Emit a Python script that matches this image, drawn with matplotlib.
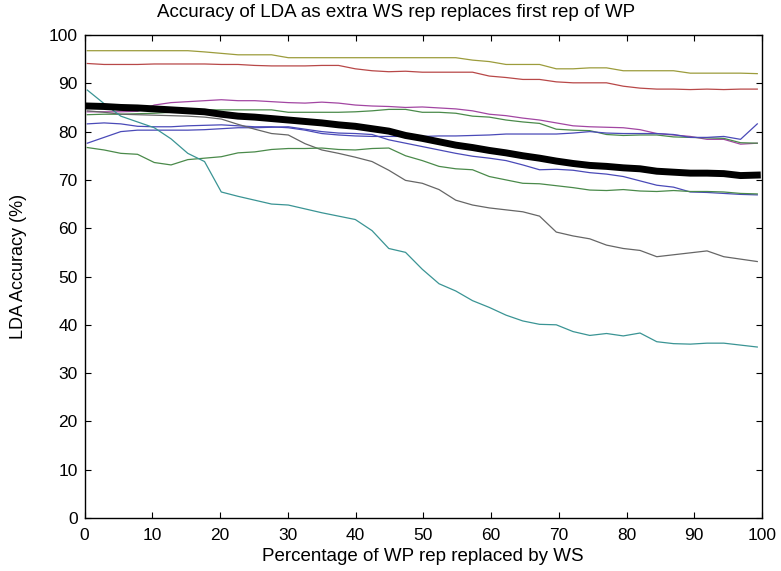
import numpy as np
import matplotlib
matplotlib.use("Agg")
import matplotlib.pyplot as plt

plt.rcParams['font.family'] = ['Liberation Sans', 'DejaVu Sans']

# x positions (percentage of WP rep replaced), sampled every 2.5 %
x_pct = np.linspace(0.4, 99.3, 41)

olive = [96.75, 96.75, 96.75, 96.75, 96.75, 96.75, 96.75, 96.5, 96.2, 95.9,
         95.9, 95.9, 95.3, 95.3, 95.3, 95.3, 95.3, 95.3, 95.3, 95.3,
         95.3, 95.3, 95.3, 94.8, 94.5, 93.9, 93.9, 93.9, 93.0, 93.0,
         93.2, 93.2, 92.6, 92.6, 92.6, 92.6, 92.1, 92.1, 92.1, 92.1, 92.0]
red = [94.1, 93.9, 93.9, 93.9, 94.0, 94.0, 94.0, 94.0, 93.9, 93.9,
       93.7, 93.6, 93.6, 93.6, 93.7, 93.7, 93.0, 92.6, 92.4, 92.5,
       92.3, 92.3, 92.3, 92.3, 91.5, 91.2, 90.8, 90.8, 90.3, 90.1,
       90.1, 90.1, 89.4, 89.0, 88.8, 88.8, 88.7, 88.8, 88.7, 88.8, 88.8]
purple = [84.1, 84.1, 84.1, 84.2, 85.5, 86.0, 86.2, 86.4, 86.6, 86.4,
          86.4, 86.2, 86.0, 85.9, 86.1, 85.9, 85.5, 85.3, 85.2, 85.0,
          85.1, 84.9, 84.7, 84.3, 83.6, 83.3, 82.8, 82.4, 81.8, 81.2,
          81.0, 80.9, 80.8, 80.4, 79.6, 79.3, 79.0, 78.4, 78.4, 77.4, 77.6]
green_hi = [83.5, 83.6, 83.6, 83.7, 83.8, 84.0, 84.3, 84.5, 84.5, 84.5,
            84.5, 84.5, 84.0, 84.0, 84.0, 84.0, 84.1, 84.3, 84.6, 84.6,
            84.0, 84.0, 83.8, 83.2, 83.0, 82.4, 82.0, 81.7, 80.5, 80.3,
            80.2, 79.4, 79.2, 79.3, 79.3, 78.9, 78.8, 78.7, 78.6, 77.7, 77.6]
blue_a = [81.6, 81.8, 81.6, 81.1, 81.0, 81.0, 81.2, 81.3, 81.4, 81.2,
          81.0, 81.0, 80.8, 80.3, 79.6, 79.3, 79.1, 79.0, 79.0, 79.0,
          79.0, 79.1, 79.1, 79.2, 79.3, 79.5, 79.5, 79.5, 79.5, 79.7,
          80.0, 79.7, 79.6, 79.6, 79.6, 79.4, 78.8, 78.8, 79.0, 78.4, 81.6]
blue_b = [77.6, 78.8, 80.0, 80.3, 80.3, 80.3, 80.3, 80.4, 80.6, 80.8,
          80.8, 80.9, 81.0, 80.5, 80.0, 79.7, 79.6, 79.4, 78.3, 77.6,
          76.9, 76.2, 75.5, 74.9, 74.5, 74.0, 73.1, 72.1, 72.2, 72.0,
          71.5, 71.2, 70.7, 69.8, 68.9, 68.5, 67.5, 67.4, 67.2, 67.0, 66.9]
gray = [84.3, 84.0, 83.6, 83.5, 83.4, 83.3, 83.2, 83.0, 82.6, 81.5,
        80.5, 79.6, 79.3, 77.5, 76.2, 75.5, 74.7, 73.8, 72.0, 69.9,
        69.3, 68.0, 65.8, 64.8, 64.2, 63.8, 63.4, 62.5, 59.2, 58.4,
        57.8, 56.5, 55.8, 55.4, 54.1, 54.5, 54.9, 55.3, 54.1, 53.6, 53.1]
green_lo = [76.7, 76.2, 75.5, 75.3, 73.6, 73.1, 74.2, 74.5, 74.8, 75.6,
            75.8, 76.3, 76.5, 76.5, 76.6, 76.3, 76.2, 76.5, 76.6, 75.0,
            74.0, 72.8, 72.3, 72.1, 70.7, 70.0, 69.3, 69.2, 68.8, 68.4,
            67.9, 67.8, 68.0, 67.7, 67.6, 67.8, 67.6, 67.6, 67.5, 67.2, 67.1]
teal = [88.6, 85.8, 83.2, 82.0, 80.8, 78.5, 75.5, 73.8, 67.5, 66.6,
        65.8, 65.0, 64.8, 64.0, 63.2, 62.5, 61.8, 59.5, 55.8, 55.0,
        51.5, 48.5, 47.0, 45.0, 43.6, 42.0, 40.8, 40.1, 40.0, 38.6,
        37.8, 38.2, 37.7, 38.3, 36.5, 36.1, 36.0, 36.2, 36.2, 35.8, 35.4]
mean_acc = [85.3, 85.2, 85.0, 84.9, 84.7, 84.5, 84.3, 84.1, 83.6, 83.2,
            83.0, 82.7, 82.4, 82.1, 81.8, 81.4, 81.1, 80.6, 80.1, 79.2,
            78.6, 77.9, 77.2, 76.7, 76.1, 75.6, 75.0, 74.5, 73.9, 73.4,
            73.0, 72.8, 72.5, 72.3, 71.8, 71.6, 71.4, 71.4, 71.3, 70.9, 71.0]

subjects = [olive, red, purple, green_hi, blue_a, blue_b, gray, green_lo, teal]
farger = ['#9c9c3c', '#b84848', '#a246a2', '#4a8a4a', '#4a4ab8',
          '#4a4ab8', '#666666', '#4a8a4a', '#3a9494']

fig = plt.figure(figsize=(7.81, 5.71), dpi=100)
ax = fig.add_axes([0.1083, 0.0928, 0.8674, 0.8459])

for y, c in zip(subjects, farger):
    ax.plot(x_pct, y, color=c, linewidth=0.9)
ax.plot(x_pct, mean_acc, color='black', linewidth=5, zorder=5)

ax.set_xlim(0, 100)
ax.set_ylim(0, 100)
ax.set_xticks(range(0, 101, 10))
ax.set_yticks(range(0, 101, 10))
ax.tick_params(direction='in', top=True, right=True, length=4,
               labelsize=12.5, width=0.8)
ax.tick_params(axis='x', pad=7)
ax.tick_params(axis='y', pad=5)
for s in ax.spines.values():
    s.set_linewidth(1.0)

tittel = ax.set_title("Accuracy of LDA as extra WS rep replaces first rep of WP",
                      fontsize=13.5, pad=13)
tittel.set_x(0.46)
ax.set_xlabel("Percentage of WP rep replaced by WS", fontsize=13.5, labelpad=4)
ax.set_ylabel("LDA Accuracy (%)", fontsize=13)
ax.yaxis.set_label_coords(-0.085, 0.52)

fig.savefig("out.png", dpi=100)
